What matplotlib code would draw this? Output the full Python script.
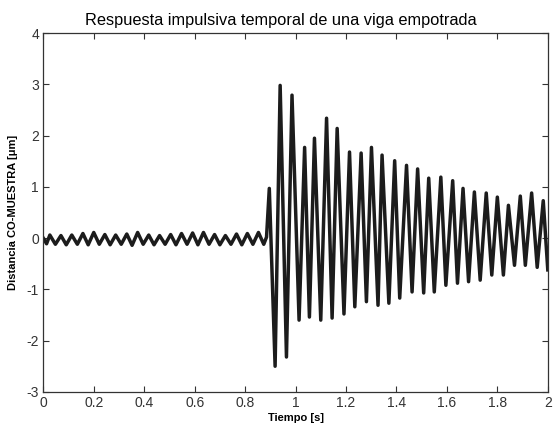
import numpy as np
import matplotlib
matplotlib.use("Agg")
import matplotlib.pyplot as plt

# Oscilación previa al impacto (extremos)
t_pre = [0.000, 0.013, 0.026, 0.048, 0.070, 0.091, 0.113, 0.135, 0.157, 0.178,
         0.200, 0.222, 0.244, 0.265, 0.287, 0.309, 0.331, 0.352, 0.374, 0.396,
         0.418, 0.439, 0.461, 0.483, 0.505, 0.526, 0.548, 0.570, 0.592, 0.613,
         0.635, 0.657, 0.679, 0.700, 0.722, 0.744, 0.766, 0.787, 0.809, 0.831,
         0.853, 0.874, 0.885]
y_pre = [0.00, -0.11, 0.06, -0.12, 0.05, -0.13, 0.06, -0.12, 0.09, -0.13,
         0.11, -0.12, 0.07, -0.13, 0.06, -0.12, 0.08, -0.14, 0.11, -0.12,
         0.06, -0.13, 0.05, -0.12, 0.07, -0.13, 0.09, -0.12, 0.10, -0.13,
         0.11, -0.12, 0.07, -0.13, 0.05, -0.12, 0.08, -0.13, 0.09, -0.12,
         0.11, -0.12, 0.02]

# Respuesta tras el impacto (picos y valles)
t_post = [0.896, 0.919, 0.939, 0.964, 0.986, 1.014, 1.036, 1.055, 1.075, 1.100,
          1.123, 1.145, 1.165, 1.192, 1.214, 1.235, 1.260, 1.281, 1.301, 1.327,
          1.343, 1.370, 1.393, 1.413, 1.440, 1.462, 1.484, 1.508, 1.528, 1.550,
          1.576, 1.596, 1.623, 1.642, 1.664, 1.686, 1.709, 1.732, 1.756, 1.778,
          1.800, 1.824, 1.844, 1.868, 1.891, 1.911, 1.936, 1.958, 1.982, 2.000]
y_post = [0.97, -2.50, 2.98, -2.32, 2.79, -1.60, 1.77, -1.54, 1.95, -1.60,
          2.34, -1.56, 2.14, -1.48, 1.68, -1.34, 1.66, -1.24, 1.77, -1.31,
          1.62, -1.27, 1.51, -1.17, 1.42, -1.05, 1.35, -1.07, 1.17, -1.05,
          1.19, -0.92, 1.12, -0.88, 0.97, -0.85, 0.90, -0.82, 0.88, -0.72,
          0.80, -0.72, 0.64, -0.53, 0.82, -0.53, 0.88, -0.57, 0.73, -0.62]

x_ticks = [0, 0.2, 0.4, 0.6, 0.8, 1, 1.2, 1.4, 1.6, 1.8, 2]
y_ticks = [-3, -2, -1, 0, 1, 2, 3, 4]

t = np.array(t_pre + t_post)
y = np.array(y_pre + y_post)

plt.rcParams["font.family"] = ["Liberation Sans", "DejaVu Sans"]
plt.rcParams["axes.unicode_minus"] = False

fig = plt.figure(figsize=(5.55, 4.25), dpi=100)
ax = fig.add_axes([0.078, 0.078, 0.909, 0.844])

ax.plot(t, y, color="#1c1c1c", linewidth=2.5, solid_joinstyle="round")

ax.set_xlim(0, 2)
ax.set_ylim(-3, 4)
ax.set_xticks(x_ticks)
ax.set_xticklabels([f"{v:g}" for v in x_ticks])
ax.set_yticks(y_ticks)

ax.tick_params(direction="in", length=4, width=0.8, top=True, right=True,
               labelsize=10, colors="#333333", pad=3)
for s in ax.spines.values():
    s.set_color("#333333")
    s.set_linewidth(0.9)

ax.set_title("Respuesta impulsiva temporal de una viga empotrada",
             fontsize=11.8, pad=6, x=0.471)
ax.set_xlabel("Tiempo [s]", fontsize=8, fontweight="bold", labelpad=2)
ax.set_ylabel("Distancia CO-MUESTRA [\u03bcm]", fontsize=8,
              fontweight="bold", labelpad=6)

fig.savefig("out.png", dpi=100)
